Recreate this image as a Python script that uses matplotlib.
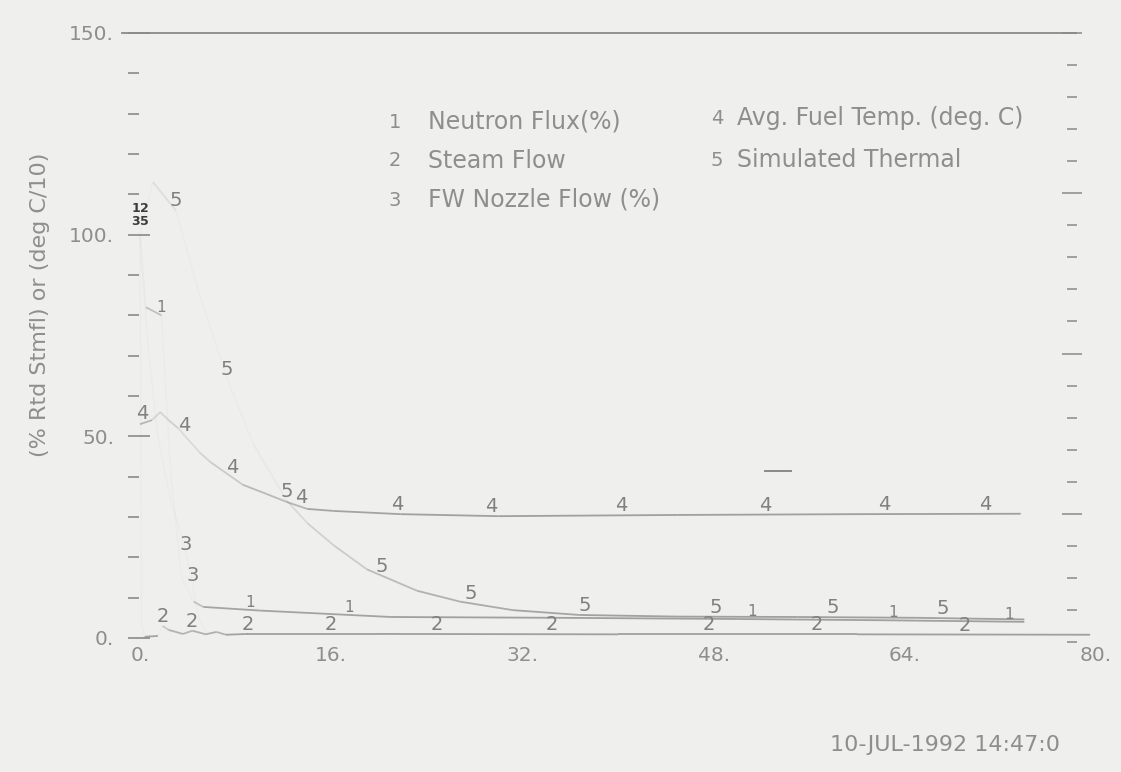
import matplotlib.pyplot as plt
import numpy as np
from matplotlib.collections import LineCollection

# time axis and curve values
t1 = [0, 0.5, 1.8, 2.6, 3.5, 4.5, 5.3, 10, 21, 35, 50, 62, 74]
v1 = [100, 82, 80, 40, 15, 9, 7.7, 6.8, 5.2, 5.0, 4.7, 4.4, 4.0]

t2 = [0, 0.15, 0.4, 1.5, 1.9, 2.4, 3.0, 3.6, 4.4, 5.5, 6.4, 7.2, 9, 20, 40, 60, 79.5]
v2 = [100, 3, 0.3, 0.5, 3.0, 2.0, 1.5, 1.0, 1.8, 0.9, 1.5, 0.8, 1.0, 1.0, 0.9, 0.9, 0.8]

t3 = [0, 0.6, 1.5, 2.5, 3.6, 4.0, 4.4, 4.9, 5.6]
v3 = [100, 75, 50, 35, 24, 19, 14, 5, 1]

t4 = [0, 1.0, 1.7, 2.4, 3.2, 5.0, 5.9, 8.6, 10.6, 12.3, 14.0, 16.2, 21.8, 30, 45, 60, 73.7]
v4 = [53, 54, 56, 54, 52, 46, 43.6, 38, 35.7, 33.7, 32, 31.5, 30.7, 30.2, 30.5, 30.7, 30.8]

t5 = [0, 1.1, 3.0, 5.0, 7.2, 9.5, 12.3, 14.0, 16.2, 19.0, 23.2, 26.8, 31.2, 36.8, 45, 55, 65, 74]
v5 = [100, 113, 106, 85, 65, 48, 34, 28.5, 23, 17, 11.7, 9, 6.9, 5.7, 5.3, 5.2, 5.0, 4.6]

# where the curve number markers sit along each curve
lab1 = [0, 1.8, 9.2, 17.5, 51.2, 63, 72.7]
lab2 = [0, 1.9, 4.3, 9.0, 16.0, 24.8, 34.5, 47.6, 56.6, 69.0]
lab3 = [0, 3.85, 4.45]
lab4 = [0.2, 3.7, 7.7, 13.5, 21.5, 29.4, 40.3, 52.3, 62.3, 70.7]
lab5 = [0, 3.0, 7.3, 12.3, 20.2, 27.7, 37.2, 48.2, 58, 67.2]

# stray dash near t=53
dash_t = [52.3, 54.5]
dash_v = [41.5, 41.5]

legend_left = ["Neutron Flux(%)", "Steam Flow", "FW Nozzle Flow (%)"]
legend_right = ["Avg. Fuel Temp. (deg. C)", "Simulated Thermal"]

xticks = [0, 16, 32, 48, 64, 80]
yticks = [0, 50, 100, 150]

grey = '#8a8a8a'
txt = '#8e8e8e'
bg = '#efefed'

# the t=0 markers pile up into a dark clump; nudge them into a tight 2x2 block
start_off = {1: (-3, 14), 2: (3, 14), 3: (-3, 5), 5: (3, 5)}

fig = plt.figure(figsize=(11.21, 7.72), dpi=100, facecolor=bg)
ax = fig.add_axes([122 / 1121, 1 - 642 / 772, 980 / 1121, 609 / 772])
ax.set_facecolor('none')
ax.set_xlim(-1.5, 80.5)
ax.set_ylim(-1, 150)

for s in ['right', 'bottom']:
    ax.spines[s].set_visible(False)
ax.spines['top'].set_color(grey)
ax.spines['top'].set_linewidth(1.3)
ax.spines['top'].set_bounds(-1.5, 78.3)
ax.spines['left'].set_position(('data', -1.0))
ax.spines['left'].set_color('none')

ax.set_xticks(xticks)
ax.set_xticklabels([f"{x}." for x in xticks])
ax.set_yticks(yticks)
ax.set_yticklabels([f"{y}." for y in yticks])
ax.set_yticks(np.arange(10, 150, 10), minor=True)
ax.tick_params(axis='x', length=0, pad=3, labelsize=14.5, labelcolor=txt)
ax.tick_params(axis='y', which='major', direction='in', length=16, width=1.2,
               color=grey, pad=10, labelsize=14.5, labelcolor=txt)
ax.tick_params(axis='y', which='minor', direction='in', length=8, width=1.2, color=grey)

# right-hand tick column
ax2 = ax.twinx()
ax2.set_ylim(19, 0)
for s in ax2.spines.values():
    s.set_visible(False)
ax2.spines['right'].set_visible(True)
ax2.spines['right'].set_color('none')
ax2.spines['right'].set_position(('data', 78.0))
ax2.set_yticks(np.arange(0, 20, 5))
ax2.set_yticks(np.arange(0, 20, 1), minor=True)
ax2.set_yticklabels([])
ax2.tick_params(axis='y', which='major', direction='inout', length=14, width=1.1, color=grey)
ax2.tick_params(axis='y', which='minor', direction='inout', length=7, width=1.1, color=grey)


def faint_line(t, v):
    pts = np.column_stack([t, v])
    px = ax.transData.transform(pts)
    d = np.diff(px, axis=0)
    ang = np.degrees(np.arctan2(np.abs(d[:, 1]), np.abs(d[:, 0]) + 1e-9))
    alpha = np.clip(1.0 - ang / 65.0, 0.04, 1.0) * 0.8
    segs = np.stack([pts[:-1], pts[1:]], axis=1)
    cols = [(0.55, 0.55, 0.55, a) for a in alpha]
    ax.add_collection(LineCollection(segs, colors=cols, linewidths=1.3))


def markers(n, t, v, where, size=14):
    ys = np.interp(where, t, v)
    for x, y in zip(where, ys):
        if x == 0 and n in start_off:
            ax.annotate(str(n), (x, y), xytext=start_off[n], textcoords='offset points',
                        ha='center', va='bottom', fontsize=9, color='#3c3c3c',
                        fontweight='bold')
            continue
        ax.annotate(str(n), (x, y), xytext=(0, 0), textcoords='offset points',
                    ha='center', va='bottom', fontsize=size, color='#808080')


series = [(1, t1, v1, lab1, 11), (2, t2, v2, lab2, 14), (3, t3, v3, lab3, 14),
          (4, t4, v4, lab4, 14), (5, t5, v5, lab5, 14)]
for n, t, v, lab, size in series:
    faint_line(t, v)
    markers(n, t, v, lab, size)

ax.plot(dash_t, dash_v, color=grey, lw=1.4)

# legend block
for i, name in enumerate(legend_left):
    y = 1 - (122 + 39 * i) / 772
    fig.text(395 / 1121, y, str(i + 1), ha='center', va='center', fontsize=14, color=txt)
    fig.text(428 / 1121, y, name, ha='left', va='center', fontsize=17, color=txt)
for i, name in enumerate(legend_right):
    y = 1 - (118 + 42 * i) / 772
    fig.text(717 / 1121, y, str(i + 4), ha='center', va='center', fontsize=14, color=txt)
    fig.text(737 / 1121, y, name, ha='left', va='center', fontsize=17, color=txt)

fig.text(40 / 1121, 1 - 305 / 772, "(% Rtd Stmfl) or (deg C/10)", rotation=90,
         ha='center', va='center', fontsize=16, color=txt)
fig.text(945 / 1121, 1 - 745 / 772, "10-JUL-1992 14:47:0",
         ha='center', va='center', fontsize=16, color=txt)

fig.savefig('out.png', dpi=100, facecolor=bg)
